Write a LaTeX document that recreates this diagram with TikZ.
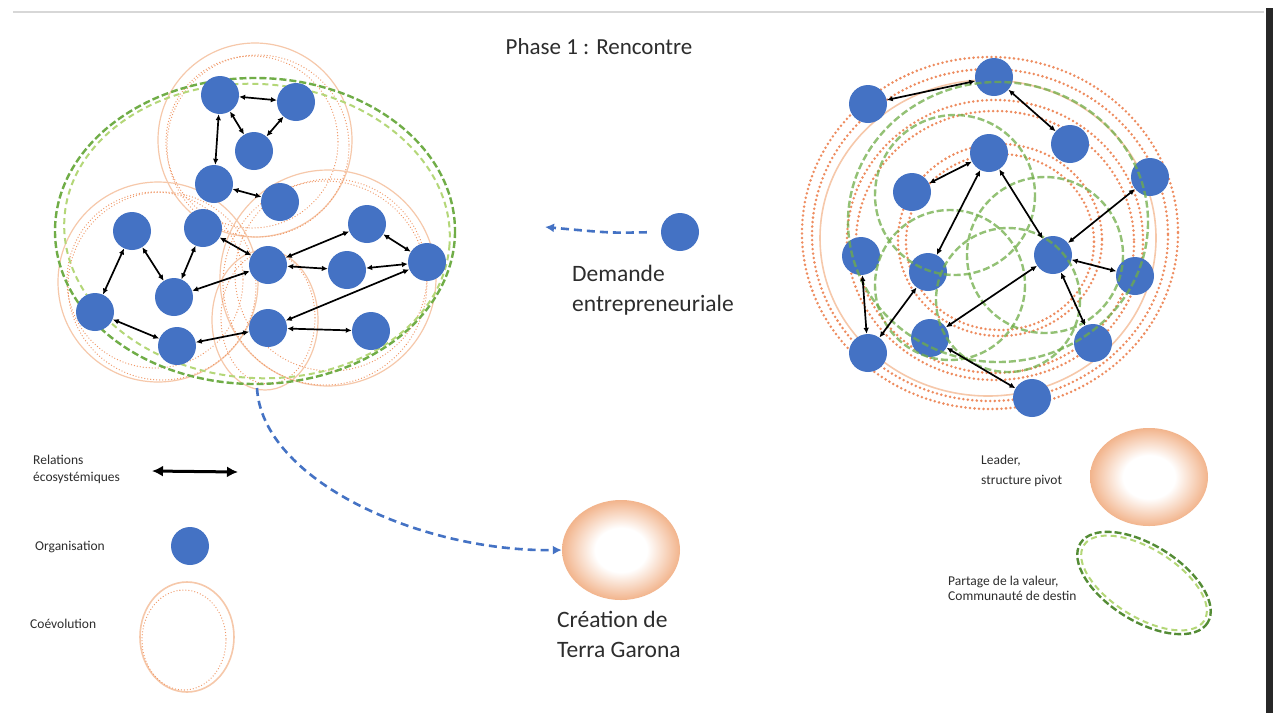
\documentclass[tikz,border=0pt]{standalone}
\usepackage{fontspec}
\setmainfont{Carlito}
\usetikzlibrary{arrows.meta}
\definecolor{orgblue}{RGB}{68,114,196}
\definecolor{coevolight}{RGB}{246,200,170}
\definecolor{coevodot}{RGB}{240,150,100}
\definecolor{ringcol}{RGB}{238,140,95}
\definecolor{vgreen}{RGB}{112,173,71}
\definecolor{vgreendark}{RGB}{84,140,53}
\definecolor{vgreenlight}{RGB}{180,215,120}
\definecolor{leaderorange}{RGB}{242,180,140}
\definecolor{topline}{RGB}{215,215,215}
\definecolor{sidebar}{RGB}{40,40,40}
\definecolor{textgray}{RGB}{45,45,45}
\pgfdeclareradialshading{leadershade}{\pgfpoint{0bp}{0bp}}{color(0bp)=(white); color(11bp)=(white); color(25bp)=(leaderorange); color(50bp)=(leaderorange)}
\tikzset{
  org/.style={circle, fill=orgblue, draw=none, minimum size=38pt, inner sep=0pt},
  rel/.style={{Latex[length=6pt,width=5.5pt]}-{Latex[length=6pt,width=5.5pt]}, line width=1.7pt, black},
  coevosolid/.style={draw=coevolight, line width=1.2pt},
  coevodotted/.style={draw=coevodot, line width=1.3pt, line cap=round, dash pattern=on 0pt off 3pt},
  ringdot/.style={draw=ringcol, line width=2.8pt, line cap=round, dash pattern=on 0pt off 4.5pt},
  greendash/.style={draw=vgreen, line width=2.4pt, dash pattern=on 7pt off 3pt},
  greendashlight/.style={draw=vgreenlight, line width=2pt, dash pattern=on 6pt off 4pt},
  flow/.style={draw=orgblue, line width=2.6pt, dash pattern=on 8pt off 5pt, -{Latex[length=9pt,width=9pt]}},
  small/.style={font=\fontsize{13.5}{17}\selectfont, text=textgray, align=left, inner sep=0pt},
  big/.style={font=\fontsize{23.5}{30}\selectfont, text=textgray, align=left, anchor=north west, inner sep=0pt},
  leaderdisc/.style={shading=leadershade}
}
\begin{document}
\begin{tikzpicture}[x=1pt,y=-1pt]
\useasboundingbox (0,0) rectangle (1277,713);
\fill[white] (0,0) rectangle (1277,713);
\draw[topline, line width=2pt] (13,12) -- (1264,12);
\fill[sidebar] (1266,8) rectangle (1273,713);

% title
\node[font=\fontsize{23}{26}\selectfont, text=textgray] (title) at (599,47) {Phase 1 : Rencontre};

% ---------- left cluster: circles ----------
\draw[coevosolid] (255,140) circle [radius=97];
\draw[coevodotted] (258,146) circle [radius=91];
\draw[coevodotted] (252,142) circle [radius=86];
\draw[coevosolid] (158,282) circle [radius=100];
\draw[coevodotted] (162,286) circle [radius=94];
\draw[coevodotted] (155,280) circle [radius=88];
\draw[coevosolid] (328,278) circle [radius=108];
\draw[coevodotted] (325,283) circle [radius=102];
\draw[coevodotted] (331,275) circle [radius=96];
\draw[coevosolid] (265,320) ellipse [x radius=53, y radius=70];
\draw[coevodotted] (268,318) ellipse [x radius=47, y radius=66];
\draw[greendash] (255,231) ellipse [x radius=200, y radius=153];
\draw[greendashlight, rotate around={-4:(257,231)}] (257,231) ellipse [x radius=193, y radius=147];
\coordinate (lstart) at (257,388);

% ---------- left cluster: nodes ----------
\node[org] (a1) at (220,95) {};
\node[org] (a2) at (296,102) {};
\node[org] (a3) at (254,151) {};
\node[org] (a4) at (214,184) {};
\node[org] (a5) at (280,202) {};
\node[org] (b1) at (132,231) {};
\node[org] (b2) at (203,228) {};
\node[org] (b3) at (268,265) {};
\node[org] (b4) at (367,224) {};
\node[org] (b5) at (347,270) {};
\node[org] (b6) at (427,262) {};
\node[org] (c1) at (95,312) {};
\node[org] (c2) at (174,297) {};
\node[org] (c3) at (177,346) {};
\node[org] (c4) at (268,328) {};
\node[org] (c5) at (371,331) {};

\foreach \u/\v in {a1/a2,a1/a3,a2/a3,a1/a4,a4/a5,b2/c2,b1/c2,b1/c1,b2/b3,b3/c2,b3/b4,b3/b5,b5/b6,b4/b6,b6/c4,c4/c5,c4/c3,c3/c1}
  \draw[rel] (\u) -- (\v);

% ---------- right cluster: orange rings ----------
\draw[ringdot] (990,233) ellipse [x radius=188, y radius=176];
\draw[ringdot] (990,235) ellipse [x radius=178, y radius=166];
\draw[coevosolid, line width=1.6pt] (988,238) ellipse [x radius=168, y radius=158];
\draw[ringdot] (995,240) ellipse [x radius=148, y radius=140];
\draw[ringdot] (995,242) ellipse [x radius=139, y radius=131];
\draw[ringdot] (1000,240) ellipse [x radius=102, y radius=96];
\draw[ringdot] (1000,242) ellipse [x radius=94, y radius=88];

% ---------- right cluster: nodes ----------
\node[org] (r1) at (868,104) {};
\node[org] (r2) at (994,77) {};
\node[org] (r3) at (1070,144) {};
\node[org] (r4) at (989,153) {};
\node[org] (r5) at (912,192) {};
\node[org] (r6) at (1150,177) {};
\node[org] (r7) at (861,256) {};
\node[org] (r8) at (928,272) {};
\node[org] (r9) at (1053,255) {};
\node[org] (r10) at (1135,276) {};
\node[org] (r11) at (868,353) {};
\node[org] (r12) at (930,338) {};
\node[org] (r13) at (1093,343) {};
\node[org] (r14) at (1032,398) {};

% ---------- right cluster: green circles ----------
\begin{scope}[opacity=0.75]
\draw[greendash] (998,222) ellipse [x radius=150, y radius=140];
\draw[greendash] (955,195) circle [radius=80];
\draw[greendash] (1045,255) circle [radius=78];
\draw[greendash] (950,285) circle [radius=75];
\draw[greendash] (1008,300) circle [radius=72];
\end{scope}

\foreach \u/\v in {r1/r2,r2/r3,r4/r5,r4/r8,r4/r9,r6/r9,r9/r12,r9/r10,r9/r13,r11/r7,r11/r8,r12/r14}
  \draw[rel] (\u) -- (\v);

% ---------- centre ----------
\node[org] (dem) at (680,232) {};
\coordinate (demend) at (545,227);
\draw[flow, shorten <=14pt] (dem.west) .. controls (610,233) .. (demend);
\node[big] (demtxt) at (572,265) {Demande\\entrepreneuriale};

\shade[leaderdisc] (621,550) ellipse [x radius=59, y radius=50];
\coordinate (crea) at (621,550);
\node[inner sep=0pt, minimum width=118pt, minimum height=100pt] (creanode) at (crea) {};
\draw[flow] (lstart) .. controls (262,480) and (420,552) .. (creanode.west);
\node[big] (creatxt) at (557,611) {Création de\\Terra Garona};

% ---------- legend left ----------
\node[small, anchor=north west] (relt) at (33,455) {Relations\\écosystémiques};
\coordinate (la) at (152,471);
\coordinate (lb) at (238,472);
\draw[{Latex[length=11pt,width=11pt]}-{Latex[length=11pt,width=11pt]}, line width=3pt] (la) -- (lb);
\node[small, anchor=west] (orgt) at (35,547) {Organisation};
\node[org] (legorg) at (190,546) {};
\node[small, anchor=west] (coet) at (30,624) {Coévolution};
\draw[coevosolid, line width=1.6pt] (187,637) ellipse [x radius=47, y radius=55];
\draw[coevodotted] (184,640) ellipse [x radius=42, y radius=50];

% ---------- legend right ----------
\node[small, anchor=north west, font=\fontsize{13.5}{20}\selectfont] (leadt) at (981,455) {Leader,\\structure pivot};
\shade[leaderdisc] (1149,477) ellipse [x radius=59, y radius=49];
\node[small, anchor=north west, font=\fontsize{13.5}{15}\selectfont] (partt) at (948,576) {Partage de la valeur,\\Communauté de destin};
\draw[greendash, draw=vgreendark, rotate around={-32:(1144,583)}] (1144,583) ellipse [x radius=75, y radius=38];
\draw[greendashlight, rotate around={-32:(1144,583)}] (1144,583) ellipse [x radius=71, y radius=34];
\end{tikzpicture}
\end{document}
